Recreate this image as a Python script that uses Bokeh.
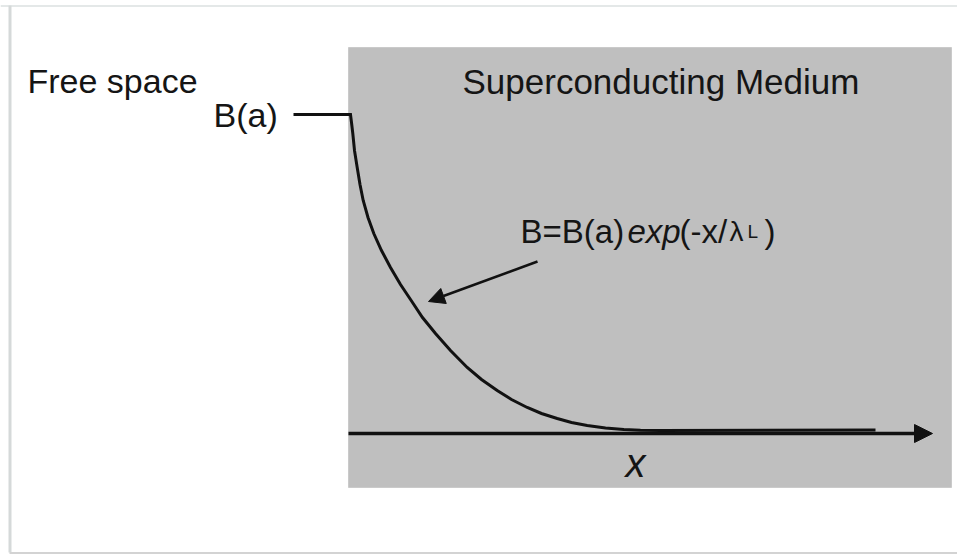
from bokeh.plotting import figure
from bokeh.models import Range1d, Arrow, NormalHead
from bokeh.core.properties import value
from bokeh.embed import file_html
from bokeh.resources import INLINE

# ---- data (diagram coordinates) ----
# field profile: free-space level, decay inside the superconductor, flat tail
field_x = [293, 350, 351, 352.3, 354, 356.7, 359.5, 362.7, 367.5, 373.3, 381, 390, 400,
           410.7, 422, 435, 450, 466.7, 481, 496.7, 511, 526.7, 541, 556.7, 571,
           586.7, 605, 623.3, 640, 660, 875]
field_y = [114, 114, 122, 133, 150, 167, 184, 200, 217, 233, 250, 267, 284,
           300, 317, 333, 350, 367, 379, 390, 399, 407, 413, 418, 422,
           425, 427.5, 429, 429.8, 430, 429.5]

medium_box = dict(left=[348], right=[951], top=[47], bottom=[487])
axis_line = dict(x0=348, x1=932, y=433)
pointer = dict(x0=537, y0=261, x1=428, y1=301)

labels_text = ["Free space", "B(a)", "Superconducting Medium"]
labels_x = [27, 213, 462]
labels_y = [93, 127, 94]
labels_size = ["34px", "34px", "35px"]

formula_parts = ["B=B(a)", "exp", "(-x/", "\u03bb", "L", ")"]
formula_x = [520, 627, 679, 729, 747, 764]
formula_style = ["normal", "italic", "normal", "normal", "normal", "normal"]
formula_size = ["33px", "33px", "33px", "28px", "19px", "33px"]
formula_y = 244

TEXT_SHIFT = -13  # compensates the renderer's baseline placement

W, H = 957, 554
p = figure(width=W, height=H, output_backend="svg", toolbar_location=None,
           x_range=Range1d(0, W), y_range=Range1d(H, 0),
           min_border=0, background_fill_color="white", border_fill_color="white",
           outline_line_color=None)
p.axis.visible = False
p.grid.visible = False

# light frame
p.line(x=[0, W], y=[5.5, 5.5], line_color="#e4e8e8", line_width=2)
p.line(x=[9.5, 9.5], y=[5, 552], line_color="#d5d9d9", line_width=3)
p.line(x=[9, W], y=[552.5, 552.5], line_color="#d3d3d3", line_width=2)

# superconducting medium
p.quad(left=medium_box["left"], right=medium_box["right"], top=medium_box["top"],
       bottom=medium_box["bottom"], fill_color="#bfbfbf", line_color="#cacaca", line_width=1)

# x axis with arrow
p.add_layout(Arrow(x_start=axis_line["x0"], y_start=axis_line["y"],
                   x_end=axis_line["x1"], y_end=axis_line["y"],
                   line_color="#111111", line_width=3.5,
                   end=NormalHead(size=18, fill_color="#111111", line_color="#111111")))

# field profile
p.line(x=field_x, y=field_y, line_color="#111111", line_width=3, line_join="miter")

# pointer arrow
p.add_layout(Arrow(x_start=pointer["x0"], y_start=pointer["y0"],
                   x_end=pointer["x1"], y_end=pointer["y1"],
                   line_color="#111111", line_width=2.5,
                   end=NormalHead(size=16, fill_color="#111111", line_color="#111111")))

font = value("Liberation Sans")
for t, xx, yy, sz in zip(labels_text, labels_x, labels_y, labels_size):
    p.text(x=[xx], y=[yy + TEXT_SHIFT], text=[t], text_font=font,
           text_font_size=sz, text_color="#151515",
           text_baseline="alphabetic", text_align="left")

for t, xx, st, sz in zip(formula_parts, formula_x, formula_style, formula_size):
    p.text(x=[xx], y=[formula_y + TEXT_SHIFT], text=[t], text_font=font, text_font_style=st,
           text_font_size=sz, text_color="#151515",
           text_baseline="alphabetic", text_align="left")

p.text(x=[625], y=[475 + TEXT_SHIFT], text=["x"], text_font=font, text_font_style="italic",
       text_font_size="40px", text_color="#151515",
       text_baseline="alphabetic", text_align="left")

open("out.html", "w").write(file_html(p, INLINE))
